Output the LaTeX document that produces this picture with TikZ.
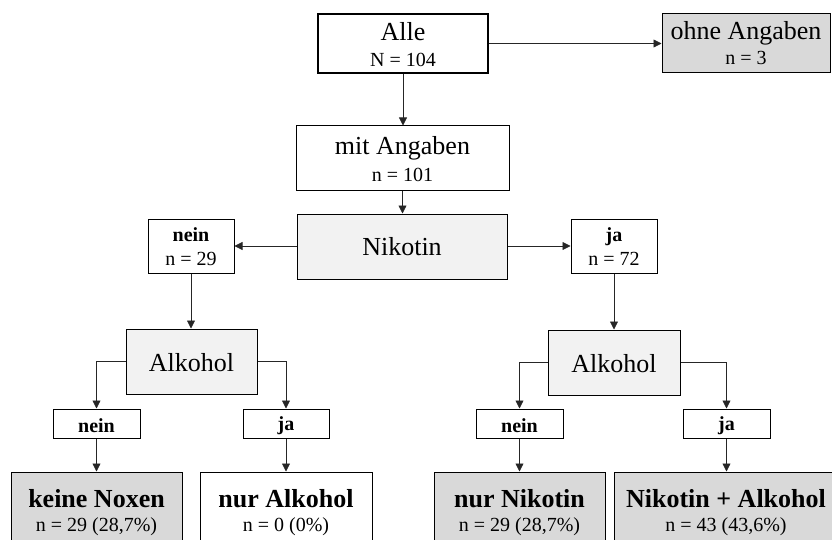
\documentclass[tikz,border=0pt]{standalone}
\usepackage{fontspec}
\setmainfont{Liberation Serif}
\usetikzlibrary{arrows.meta}
\definecolor{gdark}{HTML}{D9D9D9}
\definecolor{glight}{HTML}{F2F2F2}
\newcommand{\bigtxt}{\fontsize{26}{27}\selectfont}
\newcommand{\tops}[1]{\rule{0pt}{#1pt}}
\newcommand{\bots}[1]{\rule[-#1pt]{0pt}{#1pt}}
\begin{document}
\begin{tikzpicture}[x=1pt,y=-1pt,
  box/.style={draw=black, line width=1pt, rectangle, inner sep=0pt, align=center, fill=white, font=\fontsize{20}{24}\selectfont},
  lsk/.style={font=\fontsize{20}{#1}\selectfont},
  darkbox/.style={box, fill=gdark},
  lightbox/.style={box, fill=glight},
  conn/.style={draw=black!85, line width=0.8pt, -{Triangle[length=8pt,width=8pt]}}]
\useasboundingbox (0,0) rectangle (832,540);
\clip (0,0) rectangle (832,540);

\node[box, lsk=26, line width=2pt, minimum width=170pt, minimum height=59pt] (alle) at (403,43.5)
  {\tops{22}{\bigtxt Alle}\\N = 104\bots{1}};
\node[darkbox, lsk=25, minimum width=168pt, minimum height=59pt] (ohne) at (746,43.5)
  {\tops{20}{\bigtxt ohne Angaben}\\n = 3\bots{2}};
\node[box, lsk=27, minimum width=213pt, minimum height=65pt] (mit) at (402.5,158.5)
  {\tops{22}{\bigtxt mit Angaben}\\n = 101\bots{2}};
\node[lightbox, minimum width=210pt, minimum height=65pt] (nik) at (402,246.5)
  {\bigtxt Nikotin};
\node[box, lsk=24, minimum width=86pt, minimum height=54pt] (nein1) at (191,246)
  {\tops{16}\textbf{nein}\\n = 29\bots{1}};
\node[box, lsk=24, minimum width=86pt, minimum height=54pt] (ja1) at (614,246)
  {\tops{16}\textbf{ja}\\n = 72\bots{1}};
\node[lightbox, minimum width=131pt, minimum height=65pt] (alkL) at (191.5,361.5)
  {\tops{21}\bigtxt Alkohol\bots{0.5}};
\node[lightbox, minimum width=132pt, minimum height=65pt] (alkR) at (614,362.5)
  {\tops{21}\bigtxt Alkohol\bots{0.5}};
\node[box, minimum width=87pt, minimum height=29pt] (neinL) at (96.5,423.5)
  {\tops{19}\textbf{nein}\bots{2}};
\node[box, minimum width=86pt, minimum height=29pt] (jaL) at (286,423.5)
  {\tops{19}\textbf{ja}\bots{2}};
\node[box, minimum width=87pt, minimum height=29pt] (neinR) at (519.5,423.5)
  {\tops{19}\textbf{nein}\bots{2}};
\node[box, minimum width=87pt, minimum height=29pt] (jaR) at (726.5,423.5)
  {\tops{19}\textbf{ja}\bots{2}};
\node[darkbox, lsk=24, minimum width=171pt, minimum height=80pt] (keine) at (96.5,512)
  {\tops{19}{\bigtxt\bfseries keine Noxen}\\n = 29 (28,7\%)\bots{5}};
\node[box, lsk=24, minimum width=172pt, minimum height=80pt] (nuralk) at (286,512)
  {\tops{19}{\bigtxt\bfseries nur Alkohol}\\n = 0 (0\%)\bots{5}};
\node[darkbox, lsk=24, minimum width=171pt, minimum height=80pt] (nurnik) at (519.5,512)
  {\tops{19}{\bigtxt\bfseries nur Nikotin}\\n = 29 (28,7\%)\bots{5}};
\node[darkbox, lsk=24, minimum width=224pt, minimum height=80pt] (nikalk) at (726,512)
  {\tops{19}{\bigtxt\bfseries Nikotin + Alkohol}\\n = 43 (43,6\%)\bots{5}};

\draw[conn] (alle.east) -- (ohne.west);
\draw[conn] (alle.south) -- (alle.south |- mit.north);
\draw[conn] (mit.south) -- (mit.south |- nik.north);
\draw[conn] (nik.west |- nein1.east) -- (nein1.east);
\draw[conn] (nik.east |- ja1.west) -- (ja1.west);
\draw[conn] (nein1.south) -- (nein1.south |- alkL.north);
\draw[conn] (ja1.south) -- (ja1.south |- alkR.north);
\draw[conn] (alkL.west) -| (neinL.north);
\draw[conn] (alkL.east) -| (jaL.north);
\draw[conn] (alkR.west) -| (neinR.north);
\draw[conn] (alkR.east) -| (jaR.north);
\draw[conn] (neinL.south) -- (keine.north -| neinL.south);
\draw[conn] (jaL.south) -- (nuralk.north -| jaL.south);
\draw[conn] (neinR.south) -- (nurnik.north -| neinR.south);
\draw[conn] (jaR.south) -- (nikalk.north -| jaR.south);
\end{tikzpicture}
\end{document}
